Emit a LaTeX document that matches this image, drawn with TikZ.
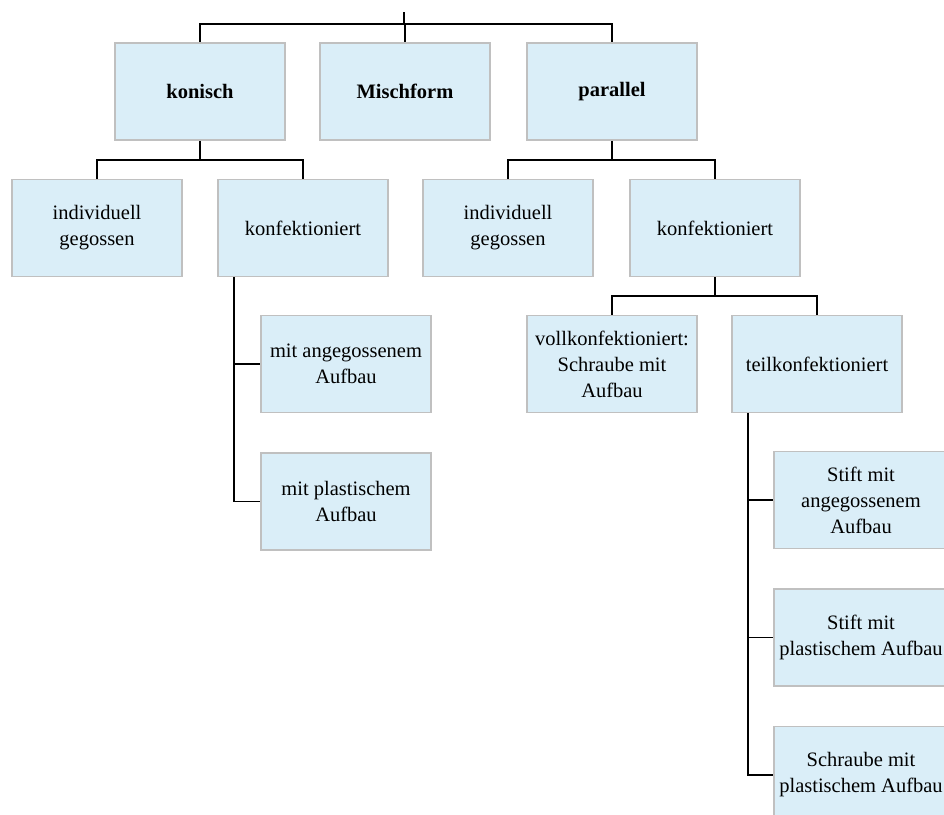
\documentclass[tikz,border=0pt]{standalone}
\usepackage{fontspec}
\setmainfont{Liberation Serif}
\usetikzlibrary{positioning}
\definecolor{boxblue}{RGB}{218,238,248}
\definecolor{boxgray}{RGB}{192,192,192}
\tikzset{
box/.style={rectangle, draw=boxgray, line width=1.5pt, fill=boxblue, minimum width=170pt, minimum height=97pt, align=center, inner sep=2pt},
style1/.style= {box, font=\fontsize{20.5}{26}\selectfont\bfseries},
style2/.style= {box, font=\fontsize{20.5}{26}\selectfont},
style3/.style= {box, minimum width=174pt, font=\fontsize{20.5}{26}\selectfont},
link/.style= {line width=1.6pt, black}
}

\begin{document}
\begin{tikzpicture}[x=1pt, y=-1pt]
\clip (0,0) rectangle (944,814);

\node[style1] (c1) at (200,91.5) {konisch};
\node[style1] (c2) at (405,91.5) {Mischform};
\node[style1] (c3) at (612,91.5) {parallel};

\node[style2] (c11) at (97,228) {individuell\\gegossen};
\node[style2] (c12) at (303,228) {konfektioniert};
\node[style2] (c31) at (508,228) {individuell\\gegossen};
\node[style2] (c32) at (715,228) {konfektioniert};

\node[style2] (c121) at (346,364) {mit angegossenem\\Aufbau};
\node[style2, below=39pt of c121] (c122) {mit plastischem\\Aufbau};

\node[style2] (c321) at (612,364) {vollkonfektioniert:\\Schraube mit\\Aufbau};
\node[style2] (c322) at (817,364) {teilkonfektioniert};

\node[style3] (c3221) at (861,500) {Stift mit\\angegossenem\\Aufbau};
\node[style3, below=39pt of c3221] (c3222) {Stift mit\\plastischem Aufbau};
\node[style3, below=39pt of c3222] (c3223) {Schraube mit\\plastischem Aufbau};

\coordinate (top) at (404,12);
\draw[link] (top) -- ++(0,12) coordinate (bar);
\foreach \value in {1,2,3}
  \draw[link] (bar) -| (c\value.north);

\foreach \p in {1,3} {
  \draw[link] (c\p.south) -- ++(0,19) coordinate (b\p);
  \foreach \value in {1,2}
    \draw[link] (b\p) -| (c\p\value.north);
}

\draw[link] (c32.south) -- ++(0,19) coordinate (b32);
\foreach \value in {1,2}
  \draw[link] (b32) -| (c32\value.north);

\foreach \value in {1,2}
  \draw[link] ([xshift=17pt]c12.south west) |- (c12\value.west);

\foreach \value in {1,2,3}
  \draw[link] ([xshift=17pt]c322.south west) |- (c322\value.west);
\end{tikzpicture}
\end{document}
